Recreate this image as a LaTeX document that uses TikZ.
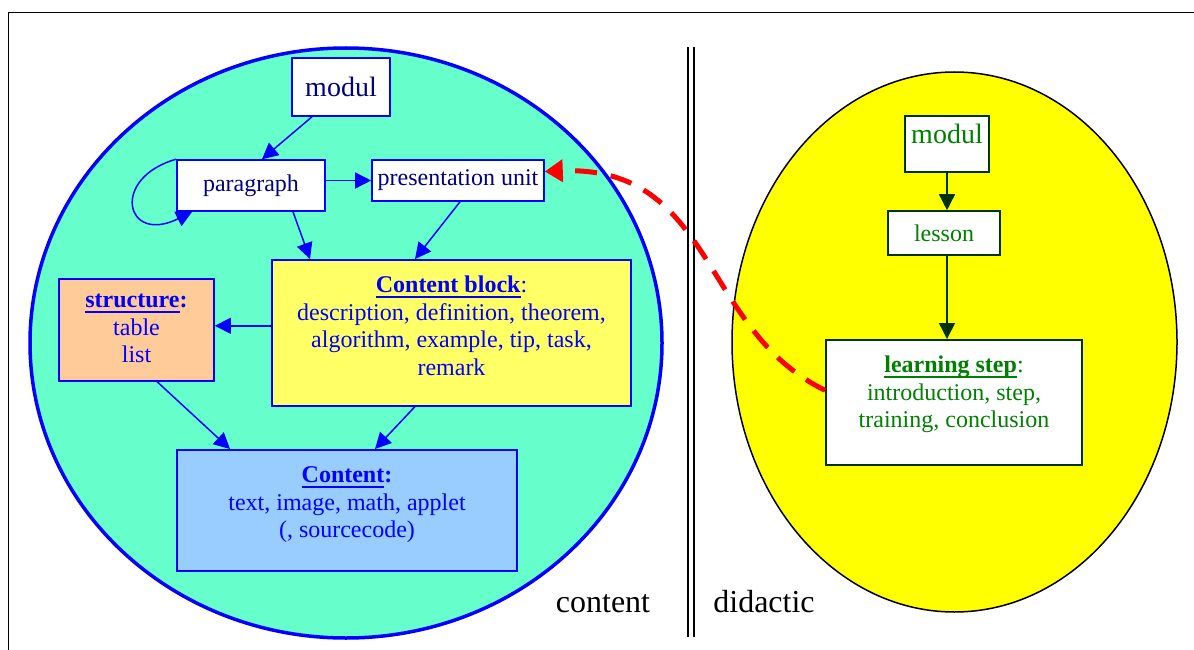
\documentclass[tikz,border=0pt]{standalone}
\usepackage{fontspec}
\setmainfont{Liberation Serif}
\usetikzlibrary{arrows.meta}

\definecolor{mint}{RGB}{102,255,204}
\definecolor{navyblue}{RGB}{0,0,128}
\definecolor{lightyellow}{RGB}{255,255,102}
\definecolor{peach}{RGB}{255,204,153}
\definecolor{skyblue}{RGB}{153,204,255}
\definecolor{darkgreen}{RGB}{0,51,0}
\definecolor{textgreen}{RGB}{0,128,0}
\definecolor{pureyellow}{RGB}{255,255,0}

\newcommand\ulb[1]{\setbox0=\hbox{\textbf{#1}}%
  \rlap{\rule[-5.5pt]{\wd0}{2pt}}\box0}

\begin{document}
\begin{tikzpicture}[x=1pt, y=-1pt,
  box/.style={draw=blue, line width=1.6pt, fill=white, inner sep=0pt, align=center,
    text=navyblue, font=\fontsize{24}{27.5}\selectfont},
  gbox/.style={box, draw=darkgreen, text=textgreen},
  arr/.style={draw=blue, line width=1.5pt, -{Triangle[length=16pt,width=16pt]}},
  garr/.style={arr, draw=darkgreen},
  bigtext/.style={font=\fontsize{32}{36}\selectfont}]

  \useasboundingbox (0,0) rectangle (1194,650);
  \draw[line width=1.5pt] (8.5,12.5) rectangle (1220,680);

  % the two sides
  \draw[blue, line width=3.5pt, fill=mint] (346,343) ellipse [x radius=316pt, y radius=295pt];
  \draw[line width=1.5pt, fill=pureyellow] (954.5,342) ellipse [x radius=222.5pt, y radius=270pt];
  \draw[double, double distance=4pt, line width=1.8pt] (691,47) -- (691,637);

  % content
  \node[box, minimum width=98pt, minimum height=58pt, font=\fontsize{28}{32}\selectfont] (modulL) at (341,87) {modul};
  \node[box, minimum width=148pt, minimum height=51pt] (paragraph) at (251,185.5) {paragraph};
  \node[box, minimum width=172pt, minimum height=41pt] (punit) at (458,180.5) {presentation unit};
  \node[box, fill=lightyellow, text=blue, anchor=north, minimum width=359pt,
    inner ysep=16pt, text height=99.5pt, text depth=14.5pt] (block) at (451.5,259)
    {\ulb{Content block}:\\ description, definition, theorem,\\ algorithm, example, tip, task,\\ remark};
  \node[box, fill=peach, text=blue, anchor=north, minimum width=155pt,
    inner ysep=12pt, text height=72pt, text depth=6pt] (structure) at (136.5,278)
    {\ulb{structure}\textbf{:}\\ table\\ list};
  \node[box, fill=skyblue, text=blue, anchor=north, minimum width=340pt,
    inner ysep=16pt, text height=72pt, text depth=17pt] (content) at (347,449)
    {\ulb{Content}\textbf{:}\\ text, image, math, applet\\ (, sourcecode)};

  \draw[arr] ([xshift=-29pt]modulL.south) -- ([xshift=11pt]paragraph.north);
  \draw[arr] (paragraph.north west) .. controls (110,178) and (125,245) .. ([xshift=16pt]paragraph.south west);
  \draw[arr] (paragraph.east |- punit.west) -- (punit.west);
  \draw[arr] ([xshift=42pt]paragraph.south) -- ([xshift=-141.5pt]block.north);
  \draw[arr] ([xshift=2pt]punit.south) -- ([xshift=-36.5pt]block.north);
  \draw[arr] ([yshift=7pt]block.west) -- ([yshift=7pt]block.west -| structure.east);
  \draw[arr] ([xshift=20.5pt]structure.south) -- ([xshift=-117pt]content.north);
  \draw[arr] ([xshift=-36.5pt]block.south) -- ([xshift=28pt]content.north);

  % didactic
  \node[gbox, anchor=north, minimum width=84pt, font=\fontsize{28}{32}\selectfont,
    inner ysep=8pt, text height=20pt, text depth=20pt] (modulR) at (947,115) {modul};
  \node[gbox, minimum width=112pt, minimum height=44pt] (lesson) at (944,233) {lesson};
  \node[gbox, anchor=north, minimum width=256pt,
    inner ysep=16pt, text height=72pt, text depth=21pt] (learn) at (954,339)
    {\ulb{learning step}:\\ introduction, step,\\ training, conclusion};

  \draw[garr] (modulR.south) -- (modulR.south |- lesson.north);
  \draw[garr] (lesson.south -| modulR.south) -- (modulR.south |- learn.north);

  \draw[red, line width=5pt, dash pattern=on 22pt off 14pt, -{Triangle[length=18pt,width=22pt]}]
    ([yshift=12pt]learn.west) .. controls (700,330) and (715,165) .. ([yshift=9pt]punit.east);

  \node[bigtext, anchor=base] (contentlbl) at (603,612) {content};
  \node[bigtext, anchor=base] (didacticlbl) at (764,612) {didactic};
\end{tikzpicture}
\end{document}
